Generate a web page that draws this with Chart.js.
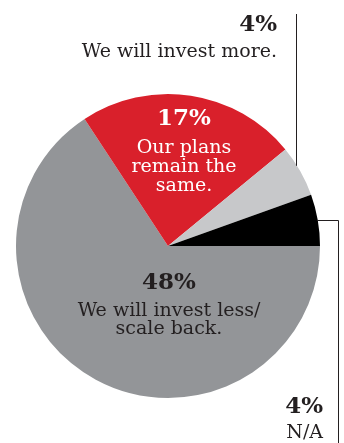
<!DOCTYPE html>
<html>
<head>
    <meta charset="utf-8">
    <title>Investment plans</title>
    <script src="https://cdn.jsdelivr.net/npm/chart.js"></script>
    <style>
        html, body { margin: 0; padding: 0; background: #fff; }
        #wrap { position: relative; width: 344px; height: 443px; }
    </style>
</head>
<body>
    <div id="wrap">
        <canvas id="myChart"></canvas>
    </div>

    <script>
        // answers, in drawing order (clockwise from 3 o'clock)
        const categories = ['We will invest less/ scale back.', 'Our plans remain the same.', 'We will invest more.', 'N/A'];
        const shares = [48, 17, 4, 4];
        const sliceColors = ['#939598', '#d9202b', '#c7c8ca', '#000000'];

        // label text split into lines
        const labelLines = [
            ['We will invest less/', 'scale back.'],
            ['Our plans', 'remain the', 'same.'],
            ['We will invest more.'],
            ['N/A']
        ];

        const FONT = '"DejaVu Serif", "Liberation Serif", serif';
        const BOLD = 'bold 23px ' + FONT;
        const REG = '19px ' + FONT;

        const pieLabels = {
            id: 'pieLabels',
            afterDraw(chart) {
                const ctx = chart.ctx;
                const arcs = chart.getDatasetMeta(0).data;
                const cx = arcs[0].x, cy = arcs[0].y, r = arcs[0].outerRadius;

                ctx.save();
                ctx.textBaseline = 'middle';

                // inside labels
                function block(i, x, y, color, gap, lineH) {
                    ctx.fillStyle = color;
                    ctx.textAlign = 'center';
                    ctx.font = BOLD;
                    ctx.fillText(shares[i] + '%', x, y);
                    ctx.font = REG;
                    labelLines[i].forEach((t, k) => ctx.fillText(t, x, y + gap + k * lineH));
                }
                block(0, 169, 283, '#231f20', 28, 18);
                block(1, 184, 119, '#ffffff', 29, 19);

                // outside labels, right aligned
                ctx.fillStyle = '#231f20';
                ctx.textAlign = 'right';
                ctx.font = BOLD;
                ctx.fillText(shares[2] + '%', 277, 25);
                ctx.font = REG;
                ctx.fillText(labelLines[2][0], 277, 52);

                ctx.font = BOLD;
                ctx.fillText(shares[3] + '%', 323, 407);
                ctx.font = REG;
                ctx.fillText(labelLines[3][0], 323, 433);

                // leader lines
                ctx.strokeStyle = '#231f20';
                ctx.lineWidth = 1;
                const lx = 296.5;
                const ly = cy - Math.sqrt(r * r - (lx - cx) * (lx - cx));
                ctx.beginPath();
                ctx.moveTo(lx, 14);
                ctx.lineTo(lx, ly + 1);
                ctx.stroke();

                const hy = 220.5;
                const hx = cx + Math.sqrt(r * r - (hy - cy) * (hy - cy));
                ctx.beginPath();
                ctx.moveTo(hx - 1, hy);
                ctx.lineTo(338.5, hy);
                ctx.lineTo(338.5, 443);
                ctx.stroke();

                ctx.restore();
            }
        };

        const config = {
            type: 'pie',
            data: {
                labels: categories,
                datasets: [{
                    data: shares,
                    backgroundColor: sliceColors,
                    borderWidth: 0
                }]
            },
            options: {
                responsive: true,
                maintainAspectRatio: false,
                animation: false,
                rotation: 90,
                layout: {
                    padding: { left: 16, right: 24, top: 94, bottom: 45 }
                },
                plugins: {
                    legend: { display: false },
                    tooltip: { enabled: false }
                }
            },
            plugins: [pieLabels]
        };

        const myChart = new Chart(document.getElementById('myChart'), config);
    </script>
</body>
</html>
